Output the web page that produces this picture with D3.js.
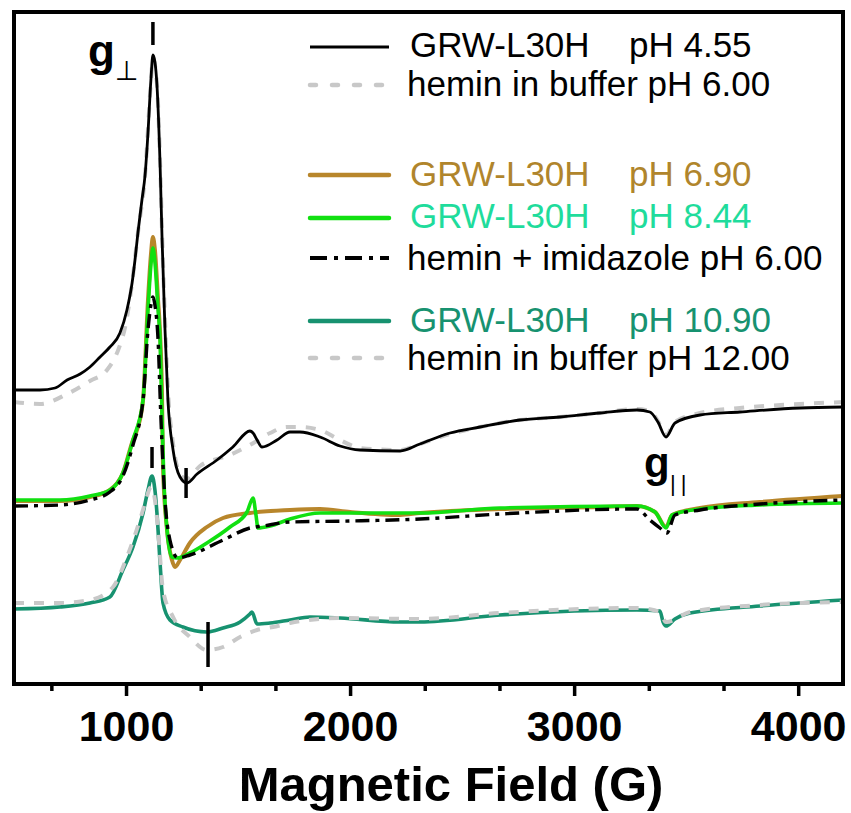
<!DOCTYPE html>
<html><head><meta charset="utf-8">
<script src="https://cdn.jsdelivr.net/npm/d3@7/dist/d3.min.js"></script>
<style>
body{margin:0;background:#fff}
svg{display:block}
text{font-family:"Liberation Sans",Arial,Helvetica,sans-serif}
</style>
</head><body>
<svg id="chart" width="851" height="813"></svg>
<script>
// ---------------- DATA (field in G, intensity in arbitrary units) ----------------
const xMajorTicks = [1000, 2000, 3000, 4000];
const xMinorTicks = [666.7, 1333.3, 1666.7, 2333.3, 2666.7, 3333.3, 3666.7];
const xTitle = "Magnetic Field (G)";

const grwPH455 = [[500,294],[616,294],[683,296],[737,304],[795,310],[839,317],[884,327],[928,337],[973,351],[1004,374],[1027,401],[1040,424],[1053,451],[1071,484],[1085,509],[1098,551],[1111,604],[1120,629],[1129,622],[1138,599],[1152,519],[1161,444],[1174,354],[1187,284],[1210,234],[1241,207],[1272,201],[1317,210],[1406,224],[1477,237],[1553,253],[1567,251],[1585,244],[1607,237],[1674,244],[1732,252],[1776,252],[1866,247],[1955,238],[2044,234],[2223,233],[2312,240],[2446,251],[2580,257],[2758,264],[2937,267],[3115,271],[3280,274],[3338,272],[3374,262],[3410,247],[3450,261],[3562,269],[3740,272],[4008,276],[4200,277]];

const heminPH600 = [[500,282],[616,280],[737,290],[839,303],[915,314],[973,339],[996,357],[1027,401],[1053,451],[1085,509],[1111,602],[1120,626],[1138,600],[1152,522],[1161,450],[1174,365],[1187,295],[1210,240],[1241,210],[1272,205],[1330,218],[1464,229],[1553,239],[1643,251],[1718,257],[1776,257],[1866,254],[1955,244],[2044,236],[2223,234],[2312,240],[2446,250],[2580,257],[2758,264],[2937,267],[3115,271],[3280,275],[3338,273],[3374,263],[3410,249],[3450,262],[3562,271],[3740,276],[4008,280],[4200,282]];

const grwPH690 = [[500,183],[705,183],[839,187],[928,194],[986,211],[1031,244],[1049,254],[1076,284],[1098,384],[1111,429],[1120,447],[1129,434],[1143,384],[1152,351],[1161,284],[1165,217],[1183,154],[1205,124],[1219,117],[1241,124],[1285,141],[1361,157],[1433,166],[1553,171],[1732,174],[1866,175],[2000,172],[2223,169],[2312,171],[2669,175],[3115,177],[3280,178],[3361,172],[3410,157],[3437,169],[3562,176],[3829,182],[4200,188]];

const grwPH844 = [[500,184],[705,184],[839,188],[928,194],[986,211],[1031,244],[1076,284],[1098,374],[1111,419],[1120,436],[1129,422],[1143,374],[1152,344],[1161,264],[1169,204],[1183,154],[1205,127],[1227,126],[1285,131],[1361,141],[1464,157],[1540,172],[1567,186],[1580,169],[1589,156],[1643,158],[1732,165],[1866,171],[2000,171],[2312,171],[2669,176],[3280,178],[3361,172],[3410,156],[3437,169],[3562,175],[3829,179],[4200,181]];

const heminImidazole = [[500,178],[705,179],[839,184],[928,192],[986,208],[1031,239],[1076,284],[1098,354],[1111,379],[1120,387],[1129,379],[1143,344],[1156,264],[1174,184],[1196,144],[1232,126],[1285,129],[1433,144],[1553,156],[1611,158],[1732,162],[2000,163],[2312,165],[2669,170],[3280,175],[3338,164],[3383,156],[3414,151],[3450,169],[3562,174],[3829,180],[4200,184]];

const grwPH1090 = [[500,75],[705,77],[839,81],[928,87],[986,114],[1031,137],[1076,171],[1098,194],[1116,208],[1129,194],[1138,171],[1152,121],[1165,81],[1196,64],[1254,57],[1361,52],[1433,56],[1509,62],[1553,70],[1562,72],[1585,60],[1643,61],[1732,64],[1821,67],[1955,66],[2223,62],[2312,62],[2669,69],[3280,74],[3383,73],[3397,62],[3410,58],[3450,65],[3517,71],[3829,78],[4200,84]];

const heminPH1200 = [[500,81],[705,81],[839,84],[942,97],[1004,127],[1062,164],[1089,184],[1107,196],[1116,197],[1129,184],[1143,154],[1165,94],[1210,67],[1285,47],[1361,34],[1433,37],[1509,47],[1585,54],[1656,57],[1732,61],[1955,66],[2312,65],[2669,71],[3280,76],[3383,72],[3410,62],[3517,72],[3829,79],[4200,82]];

// vertical marker ticks: [field, intensity from, intensity to]
const markers = [[1120,662,639],[1268,216,186],[1116,237,216],[1366,62,17]];

const legendNames = ["GRW-L30H","hemin in buffer pH 6.00","GRW-L30H","GRW-L30H","hemin + imidazole pH 6.00","GRW-L30H","hemin in buffer pH 12.00"];
const legendPH = ["pH 4.55","","pH 6.90","pH 8.44","","pH 10.90",""];

// ---------------- STYLE / LAYOUT ----------------
const M = {left: 14, right: 843, top: 12, bottom: 684};
const svg = d3.select("#chart");

const x = d3.scaleLinear().domain([500, 4200]).range([M.left, M.right]);
const y = d3.scaleLinear().domain([0, 672]).range([M.bottom, M.top]);

const series = [
  {data: heminPH600,   color:"#c8c8c8", width:4,   dash:"10,10"},
  {data: grwPH455,     color:"#000000", width:2.8, dash:null},
  {data: grwPH690,     color:"#b8862b", width:4,   dash:null},
  {data: grwPH844,     color:"#11e011", width:3.6, dash:null},
  {data: heminImidazole,color:"#000000",width:3.4, dash:"14,6,4,6"},
  {data: grwPH1090,    color:"#179270", width:3.6, dash:null},
  {data: heminPH1200,  color:"#c8c8c8", width:4,   dash:"10,10"}
];

const line = d3.line().x(d => x(d[0])).y(d => y(d[1])).curve(d3.curveMonotoneX);

svg.append("defs").append("clipPath").attr("id","clip")
  .append("rect").attr("x",M.left).attr("y",M.top).attr("width",M.right-M.left).attr("height",M.bottom-M.top);
const lines = svg.append("g").attr("clip-path","url(#clip)");
series.forEach(s => {
  lines.append("path").datum(s.data)
    .attr("d", line)
    .attr("fill","none")
    .attr("stroke", s.color)
    .attr("stroke-width", s.width)
    .attr("stroke-linejoin","round")
    .attr("stroke-dasharray", s.dash);
});

// markers
svg.append("g").selectAll("line").data(markers).join("line")
  .attr("x1", d => x(d[0])).attr("x2", d => x(d[0]))
  .attr("y1", d => y(d[1])).attr("y2", d => y(d[2]))
  .attr("stroke","#000").attr("stroke-width",3.5);

// axes
const axMajor = svg.append("g").attr("transform",`translate(0,${M.bottom})`)
  .call(d3.axisBottom(x).tickValues(xMajorTicks).tickSize(12).tickFormat(d3.format("d")));
axMajor.select(".domain").remove();
axMajor.selectAll(".tick line").attr("stroke","#000").attr("stroke-width",3.5);
axMajor.selectAll(".tick text")
  .attr("y",57).attr("dy",0)
  .attr("fill","#000")
  .style("font-family",'"Liberation Sans",Arial,sans-serif')
  .style("font-weight","bold").style("font-size","43px");

const axMinor = svg.append("g").attr("transform",`translate(0,${M.bottom})`)
  .call(d3.axisBottom(x).tickValues(xMinorTicks).tickSize(7).tickFormat(""));
axMinor.select(".domain").remove();
axMinor.selectAll(".tick line").attr("stroke","#000").attr("stroke-width",3.5);

// frame
svg.append("rect").attr("x",M.left).attr("y",M.top).attr("width",M.right-M.left).attr("height",M.bottom-M.top)
  .attr("fill","none").attr("stroke","#000").attr("stroke-width",4);

// axis title
svg.append("text").attr("x",451).attr("y",801).attr("text-anchor","middle")
  .style("font-weight","bold").style("font-size","49px").text(xTitle);

// g labels
svg.append("text").attr("x",88).attr("y",66)
  .style("font-weight","bold").style("font-size","44px").text("g");
svg.append("text").attr("x",115).attr("y",80)
  .style("font-family","'DejaVu Sans',sans-serif").style("font-size","27px").text("⊥");
svg.append("text").attr("x",644).attr("y",477)
  .style("font-weight","bold").style("font-size","42px").text("g");
svg.append("text").attr("x",670).attr("y",491)
  .style("font-size","22px").style("letter-spacing","5px").text("||");

// legend
const legendStyle = [
  {ly:47,  ty:57,  color:"#000000", text:"#000000", width:3,   dash:null,        cap:"butt"},
  {ly:85,  ty:96,  color:"#c8c8c8", text:"#000000", width:4.5, dash:"6,16",      cap:"round"},
  {ly:175, ty:186, color:"#b8862b", text:"#b0852c", width:4.5, dash:null,        cap:"round"},
  {ly:218, ty:228, color:"#11e011", text:"#1fdc9c", width:4.5, dash:null,        cap:"round"},
  {ly:258, ty:270, color:"#000000", text:"#000000", width:4,   dash:"17,7,4,7",  cap:"butt"},
  {ly:321, ty:332, color:"#179270", text:"#179270", width:4.5, dash:null,        cap:"round"},
  {ly:358, ty:370, color:"#c8c8c8", text:"#000000", width:4.5, dash:"6,16",      cap:"round"}
];
const leg = svg.append("g");
legendNames.forEach((name, i) => {
  const st = legendStyle[i];
  leg.append("line").attr("x1",310).attr("x2",389).attr("y1",st.ly).attr("y2",st.ly)
    .attr("stroke",st.color).attr("stroke-width",st.width)
    .attr("stroke-dasharray",st.dash).attr("stroke-linecap",st.cap);
  leg.append("text").attr("x", name.startsWith("hemin") ? 407 : 410).attr("y",st.ty)
    .attr("fill",st.text).style("font-size","35px").text(name);
  if (legendPH[i]) {
    leg.append("text").attr("x",629).attr("y",st.ty)
      .attr("fill",st.text).style("font-size","35px").text(legendPH[i]);
  }
});
</script>
</body></html>
